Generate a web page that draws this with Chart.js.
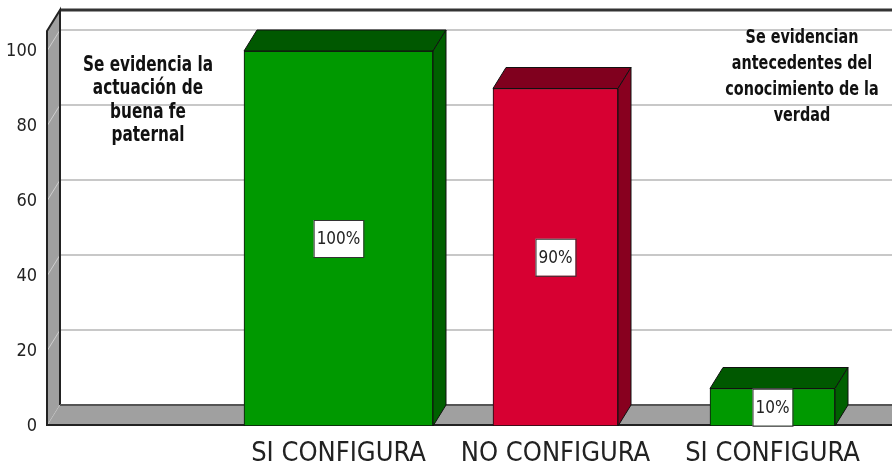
<!DOCTYPE html>
<html>
<head>
<meta charset="utf-8">
<script src="https://cdn.jsdelivr.net/npm/chart.js@4.4.1/dist/chart.umd.min.js"></script>
<style>
  html, body { margin: 0; padding: 0; background: #fff; }
  #wrap { width: 892px; height: 470px; }
</style>
</head>
<body>
<div id="wrap"><canvas id="myChart" width="892" height="470"></canvas></div>
<script>
const categories = ['SI CONFIGURA', 'NO CONFIGURA', 'SI CONFIGURA'];
const values = [100, 90, 10];
const yTicks = [0, 20, 40, 60, 80, 100];
const noteLeft = ['Se evidencia la', 'actuación de', 'buena fe', 'paternal'];
const noteRight = ['Se evidencian', 'antecedentes del', 'conocimiento de la', 'verdad'];

const NARROW = "'Liberation Sans Narrow', 'Arial Narrow', 'DejaVu Sans Condensed', sans-serif";
const frontColors = ['#009900', '#d70032', '#009900'];
const topColors = ['#005800', '#80001e', '#005800'];
const sideColors = ['#006000', '#88001f', '#006000'];

// depth of the 3d look
const DX = 13;
const DY = -21;

// first bar is wider than the other two
const wideData = values.map((v, i) => i === 0 ? v : null);
const narrowData = values.map((v, i) => i === 0 ? null : v);

function drawNote(ctx, lines, cx, cy, step, size) {
    // text in the picture is tall and narrow, so stretch it a bit
    ctx.save();
    ctx.font = 'bold ' + size + 'px ' + NARROW;
    ctx.translate(cx, cy);
    ctx.scale(1, 1.25);
    lines.forEach((s, i) => ctx.fillText(s, 0, i * step / 1.25));
    ctx.restore();
}

const box3d = {
    id: 'box3d',
    beforeDatasetsDraw(chart) {
        const ctx = chart.ctx;
        const y = chart.scales.y;
        const wallX = 47;
        const y0 = y.getPixelForValue(0);
        const yTop = y.getPixelForValue(100) - 20;
        const right = chart.width;
        ctx.save();

        // back wall grid lines
        ctx.strokeStyle = '#c8c8c8';
        ctx.lineWidth = 2;
        yTicks.forEach(t => {
            if (t === 0) return;
            const py = y.getPixelForValue(t) + DY;
            ctx.beginPath();
            ctx.moveTo(wallX + DX, py);
            ctx.lineTo(right, py);
            ctx.stroke();
        });

        // back wall top edge
        ctx.strokeStyle = '#333';
        ctx.lineWidth = 3;
        ctx.beginPath();
        ctx.moveTo(wallX + DX, yTop + DY);
        ctx.lineTo(right, yTop + DY);
        ctx.stroke();

        // left wall
        ctx.fillStyle = '#a0a0a0';
        ctx.beginPath();
        ctx.moveTo(wallX, yTop);
        ctx.lineTo(wallX + DX, yTop + DY);
        ctx.lineTo(wallX + DX, y0 + DY);
        ctx.lineTo(wallX, y0);
        ctx.closePath();
        ctx.fill();
        ctx.strokeStyle = '#cfcfcf';
        ctx.lineWidth = 1;
        yTicks.forEach(t => {
            const py = y.getPixelForValue(t);
            ctx.beginPath();
            ctx.moveTo(wallX, py);
            ctx.lineTo(wallX + DX, py + DY);
            ctx.stroke();
        });
        ctx.strokeStyle = '#222';
        ctx.lineWidth = 2;
        ctx.beginPath();
        ctx.moveTo(wallX, y0);
        ctx.lineTo(wallX, yTop);
        ctx.lineTo(wallX + DX, yTop + DY);
        ctx.lineTo(wallX + DX, y0 + DY);
        ctx.stroke();

        // floor
        ctx.fillStyle = '#a0a0a0';
        ctx.beginPath();
        ctx.moveTo(wallX, y0);
        ctx.lineTo(wallX + DX, y0 + DY);
        ctx.lineTo(right, y0 + DY);
        ctx.lineTo(right, y0);
        ctx.closePath();
        ctx.fill();
        ctx.strokeStyle = '#555';
        ctx.lineWidth = 2;
        ctx.beginPath();
        ctx.moveTo(wallX + DX, y0 + DY);
        ctx.lineTo(right, y0 + DY);
        ctx.stroke();
        ctx.strokeStyle = '#222';
        ctx.beginPath();
        ctx.moveTo(wallX, y0 - 1);
        ctx.lineTo(right, y0 - 1);
        ctx.stroke();

        // notes
        ctx.fillStyle = '#111';
        ctx.textAlign = 'center';
        ctx.textBaseline = 'middle';
        drawNote(ctx, noteLeft, 148, 65, 23.5, 17);
        drawNote(ctx, noteRight, 802, 38, 26, 16);
        ctx.restore();
    },
    afterDatasetsDraw(chart) {
        const ctx = chart.ctx;
        ctx.save();
        ctx.lineWidth = 1;
        ctx.strokeStyle = '#111';
        chart.data.datasets.forEach((ds, di) => {
            chart.getDatasetMeta(di).data.forEach((bar, i) => {
                if (ds.data[i] == null) return;
                const p = bar.getProps(['x', 'y', 'base', 'width'], true);
                const x0 = p.x - p.width / 2;
                const x1 = p.x + p.width / 2;
                // top face
                ctx.fillStyle = topColors[i];
                ctx.beginPath();
                ctx.moveTo(x0, p.y);
                ctx.lineTo(x0 + DX, p.y + DY);
                ctx.lineTo(x1 + DX, p.y + DY);
                ctx.lineTo(x1, p.y);
                ctx.closePath();
                ctx.fill();
                ctx.stroke();
                // side face
                ctx.fillStyle = sideColors[i];
                ctx.beginPath();
                ctx.moveTo(x1, p.y);
                ctx.lineTo(x1 + DX, p.y + DY);
                ctx.lineTo(x1 + DX, p.base + DY);
                ctx.lineTo(x1, p.base);
                ctx.closePath();
                ctx.fill();
                ctx.stroke();

                // value box
                const txt = ds.data[i] + '%';
                ctx.font = '17px ' + NARROW;
                const w = ctx.measureText(txt).width + 6;
                const h = 37;
                const cy = (p.y + p.base) / 2;
                ctx.fillStyle = '#fff';
                ctx.fillRect(p.x - w / 2, cy - h / 2, w, h);
                ctx.strokeStyle = '#333';
                ctx.strokeRect(p.x - w / 2 + 0.5, cy - h / 2 + 0.5, w, h);
                ctx.strokeStyle = '#111';
                ctx.fillStyle = '#222';
                ctx.textAlign = 'center';
                ctx.textBaseline = 'middle';
                ctx.fillText(txt, p.x, cy + 1);
            });
        });
        ctx.restore();
    }
};

const ctx = document.getElementById('myChart').getContext('2d');
new Chart(ctx, {
    type: 'bar',
    data: {
        labels: categories,
        datasets: [
            {
                data: wideData,
                backgroundColor: frontColors,
                borderColor: '#111',
                borderWidth: 1,
                borderSkipped: false,
                barThickness: 189,
                grouped: false
            },
            {
                data: narrowData,
                backgroundColor: frontColors,
                borderColor: '#111',
                borderWidth: 1,
                borderSkipped: false,
                barThickness: 125,
                grouped: false
            }
        ]
    },
    options: {
        responsive: false,
        animation: false,
        layout: { padding: { top: 51, right: 11, bottom: 0, left: 0 } },
        plugins: {
            legend: { display: false },
            tooltip: { enabled: false }
        },
        scales: {
            x: {
                offset: true,
                grid: { display: false, drawTicks: false },
                border: { display: false },
                ticks: {
                    color: '#222',
                    padding: 12,
                    maxRotation: 0,
                    autoSkip: false,
                    font: { family: NARROW, size: 27 }
                },
                afterFit: s => {
                    s.height = 44;
                    s.paddingLeft = 0;
                    s.paddingRight = 0;
                }
            },
            y: {
                min: 0,
                max: 100,
                grid: { display: false, drawTicks: false },
                border: { display: false },
                ticks: {
                    stepSize: 20,
                    color: '#222',
                    padding: 193,
                    font: { family: NARROW, size: 18 }
                },
                afterFit: s => {
                    s.width = 230;
                    s.paddingTop = 0;
                    s.paddingBottom = 0;
                }
            }
        }
    },
    plugins: [box3d]
});
</script>
</body>
</html>
